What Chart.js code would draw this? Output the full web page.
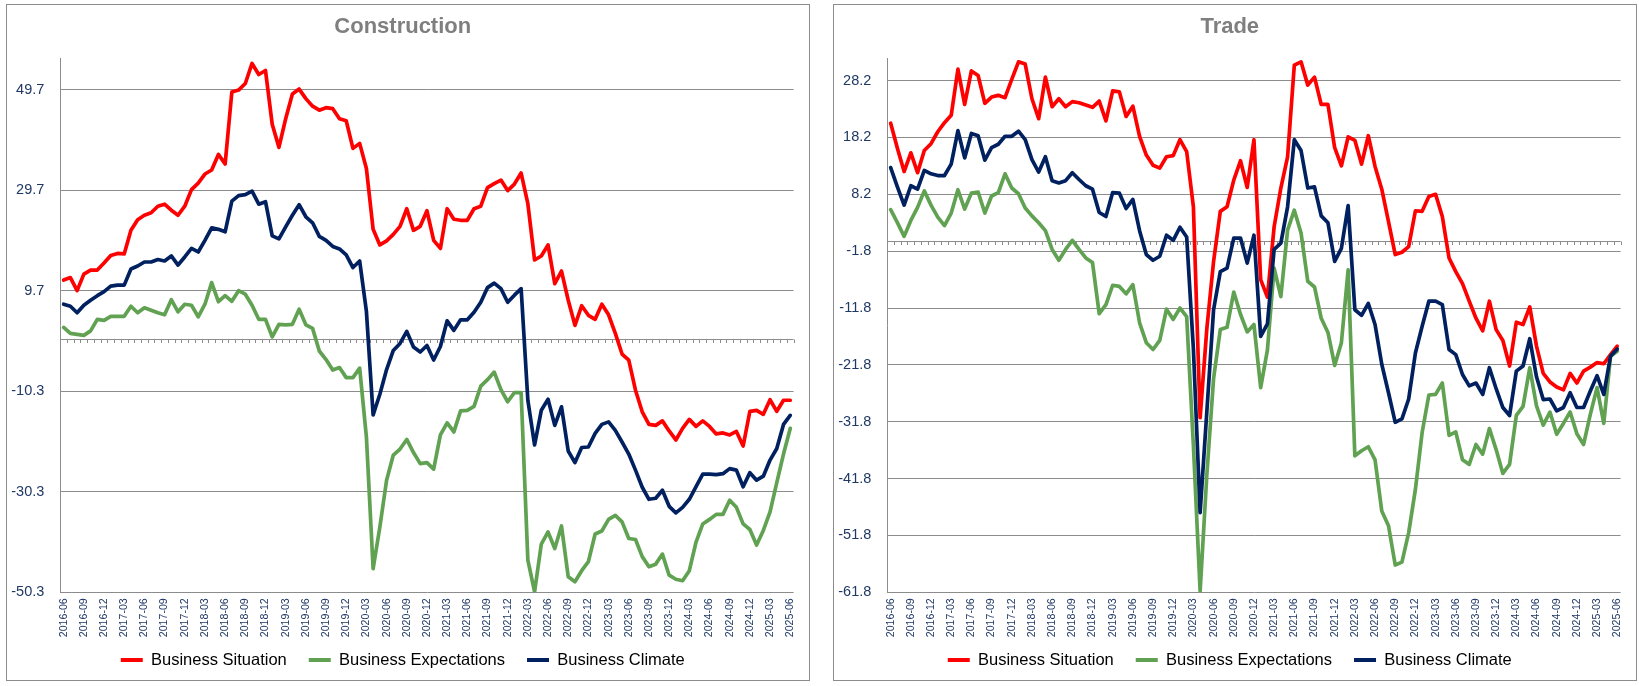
<!DOCTYPE html>
<html>
<head>
<meta charset="utf-8">
<script src="https://cdn.jsdelivr.net/npm/chart.js@4.4.1/dist/chart.umd.min.js"></script>
<style>
  html, body { margin: 0; padding: 0; background: #fff; }
  body { width: 1639px; height: 686px; position: relative; overflow: hidden; }
  .panel { position: absolute; top: 4px; width: 804px; height: 677px; border: 1px solid #8c8c8c; box-sizing: border-box; background: #fff; }
  .panel canvas { display: block; }
</style>
</head>
<body>
<div class="panel" style="left:6px"><canvas id="construction" width="802" height="675"></canvas></div>
<div class="panel" style="left:833px"><canvas id="trade" width="802" height="675"></canvas></div>
<script>
const months = [
    "2016-06", "2016-07", "2016-08", "2016-09", "2016-10", "2016-11", "2016-12",
    "2017-01", "2017-02", "2017-03", "2017-04", "2017-05", "2017-06", "2017-07", "2017-08", "2017-09", "2017-10", "2017-11", "2017-12",
    "2018-01", "2018-02", "2018-03", "2018-04", "2018-05", "2018-06", "2018-07", "2018-08", "2018-09", "2018-10", "2018-11", "2018-12",
    "2019-01", "2019-02", "2019-03", "2019-04", "2019-05", "2019-06", "2019-07", "2019-08", "2019-09", "2019-10", "2019-11", "2019-12",
    "2020-01", "2020-02", "2020-03", "2020-04", "2020-05", "2020-06", "2020-07", "2020-08", "2020-09", "2020-10", "2020-11", "2020-12",
    "2021-01", "2021-02", "2021-03", "2021-04", "2021-05", "2021-06", "2021-07", "2021-08", "2021-09", "2021-10", "2021-11", "2021-12",
    "2022-01", "2022-02", "2022-03", "2022-04", "2022-05", "2022-06", "2022-07", "2022-08", "2022-09", "2022-10", "2022-11", "2022-12",
    "2023-01", "2023-02", "2023-03", "2023-04", "2023-05", "2023-06", "2023-07", "2023-08", "2023-09", "2023-10", "2023-11", "2023-12",
    "2024-01", "2024-02", "2024-03", "2024-04", "2024-05", "2024-06", "2024-07", "2024-08", "2024-09", "2024-10", "2024-11", "2024-12",
    "2025-01", "2025-02", "2025-03", "2025-04", "2025-05", "2025-06",
];

// Construction
const conSituation = [
    11.8, 12.3, 9.7, 13.0, 13.8, 13.8, 15.2, 16.7, 17.1, 17.0, 21.7, 23.8,
    24.7, 25.2, 26.5, 26.9, 25.7, 24.7, 26.5, 29.8, 31.1, 32.9, 33.7, 36.8,
    34.9, 49.2, 49.6, 50.9, 54.9, 52.7, 53.5, 42.8, 38.2, 43.9, 48.8, 49.8,
    47.9, 46.4, 45.6, 46.1, 45.9, 43.9, 43.5, 38.0, 39.0, 34.0, 21.9, 18.8,
    19.6, 20.9, 22.5, 26.0, 21.7, 22.5, 25.6, 19.7, 18.1, 26.0, 23.9, 23.7,
    23.7, 26.0, 26.5, 30.2, 31.0, 31.7, 29.6, 30.9, 33.1, 27.0, 15.8, 16.6,
    18.8, 11.1, 13.6, 7.8, 2.8, 6.7, 4.8, 4.0, 7.0, 4.9, 1.2, -2.9,
    -4.1, -10.1, -14.4, -16.9, -17.1, -16.2, -18.2, -20.0, -17.7, -15.9, -17.3, -16.2,
    -17.3, -18.8, -18.6, -19.0, -18.3, -21.2, -14.3, -14.1, -14.9, -12.0, -14.3, -12.1,
    -12.1,
];
const conExpectations = [
    2.4, 1.2, 1.0, 0.8, 1.7, 4.0, 3.8, 4.6, 4.6, 4.6, 6.6, 5.3,
    6.3, 5.8, 5.3, 4.9, 7.9, 5.5, 7.0, 6.8, 4.5, 7.0, 11.3, 7.5,
    8.7, 7.6, 9.7, 9.0, 6.8, 4.0, 4.0, 0.5, 3.0, 2.9, 3.0, 6.0,
    2.9, 2.2, -2.3, -4.0, -6.1, -5.6, -7.6, -7.6, -5.7, -19.4, -45.6, -37.3,
    -28.0, -23.0, -21.8, -19.9, -22.5, -24.7, -24.5, -25.8, -19.0, -16.6, -18.4, -14.2,
    -14.1, -13.3, -9.3, -8.0, -6.5, -10.0, -12.4, -10.6, -10.6, -43.9, -50.2, -40.7,
    -38.3, -41.6, -37.1, -47.2, -48.2, -46.0, -44.2, -38.7, -38.1, -35.8, -35.0, -36.3,
    -39.6, -39.8, -43.2, -45.2, -44.7, -42.7, -46.9, -47.7, -48.0, -46.0, -40.3, -36.7,
    -35.8, -34.8, -34.8, -32.0, -33.4, -36.7, -37.8, -40.9, -38.0, -34.3, -28.5, -22.8,
    -17.7,
];
const conClimate = [
    7.0, 6.6, 5.3, 6.8, 7.8, 8.7, 9.5, 10.6, 10.8, 10.8, 14.0, 14.6,
    15.4, 15.4, 15.9, 15.6, 16.6, 14.8, 16.4, 18.1, 17.4, 19.7, 22.2, 21.9,
    21.4, 27.5, 28.6, 28.8, 29.5, 26.9, 27.4, 20.6, 20.0, 22.4, 24.7, 26.8,
    24.4, 23.2, 20.5, 19.7, 18.5, 18.0, 16.8, 14.3, 15.6, 5.6, -15.0, -10.9,
    -6.0, -2.2, -0.8, 1.6, -1.5, -2.5, -1.2, -4.1, -1.4, 3.7, 1.8, 3.9,
    3.9, 5.4, 7.4, 10.3, 11.2, 10.1, 7.4, 8.8, 10.1, -12.1, -21.0, -14.1,
    -11.9, -17.1, -13.4, -22.2, -24.5, -21.5, -21.4, -18.7, -16.9, -16.4, -18.1, -20.4,
    -22.8, -26.0, -29.4, -31.8, -31.6, -30.0, -33.2, -34.5, -33.4, -31.8, -29.3, -26.8,
    -26.8, -26.9, -26.7, -25.7, -26.0, -29.3, -26.5, -28.0, -27.2, -24.0, -21.7, -16.9,
    -15.1,
];
const conTicks = [-50.3, -30.3, -10.3, 9.7, 29.7, 49.7];

// Trade
const trdSituation = [
    20.7, 16.3, 12.2, 15.5, 12.0, 15.9, 17.1, 19.2, 20.8, 22.1, 30.2, 24.0,
    29.9, 29.1, 24.2, 25.3, 25.6, 25.2, 28.4, 31.5, 31.1, 25.0, 21.5, 28.8,
    23.6, 25.0, 23.6, 24.5, 24.3, 23.9, 23.5, 24.6, 21.1, 26.4, 26.2, 21.9,
    23.7, 18.4, 15.1, 13.3, 12.8, 14.8, 15.0, 17.8, 15.7, 6.0, -31.1, -15.4,
    -3.6, 5.2, 6.0, 10.7, 14.1, 9.4, 17.8, -6.8, -9.9, 2.5, 9.3, 14.8,
    30.9, 31.5, 27.4, 28.8, 24.0, 24.0, 16.4, 13.2, 18.3, 17.7, 13.5, 18.5,
    13.1, 9.1, 3.4, -2.4, -2.0, -1.0, 5.3, 5.2, 7.8, 8.2, 4.3, -3.0,
    -5.4, -7.5, -10.6, -13.6, -15.8, -10.6, -15.6, -17.5, -22.0, -14.3, -14.7, -11.6,
    -18.5, -23.3, -24.8, -25.7, -26.2, -23.3, -25.0, -22.9, -22.2, -21.4, -21.6, -20.0,
    -18.5,
];
const trdExpectations = [
    5.5, 3.2, 0.8, 3.6, 5.9, 8.8, 6.3, 4.2, 2.7, 4.9, 9.0, 5.6,
    8.4, 8.6, 4.9, 7.9, 8.5, 11.8, 9.3, 8.3, 5.8, 4.4, 3.2, 1.8,
    -1.5, -3.4, -1.5, 0.1, -1.5, -3.0, -3.8, -12.8, -11.2, -7.8, -8.0, -9.3,
    -7.7, -14.4, -17.9, -19.1, -17.5, -12.0, -13.8, -11.8, -13.3, -36.0, -61.6, -41.1,
    -24.2, -15.6, -15.2, -9.0, -12.9, -16.0, -14.7, -25.8, -19.2, -4.8, -9.8, 1.9,
    5.4, 1.4, -7.1, -8.1, -13.6, -16.1, -21.9, -17.9, -5.1, -37.8, -36.9, -36.2,
    -38.5, -47.5, -50.1, -57.0, -56.5, -51.3, -43.7, -33.7, -27.1, -27.0, -25.0, -34.2,
    -33.6, -38.5, -39.3, -35.8, -37.5, -33.0, -36.7, -40.9, -39.3, -30.7, -29.1, -22.3,
    -29.0, -32.4, -30.1, -34.0, -32.1, -30.1, -33.9, -35.8, -30.5, -25.8, -32.1, -20.3,
    -19.4,
];
const trdClimate = [
    12.9, 9.5, 6.3, 9.7, 9.1, 12.4, 11.8, 11.5, 11.5, 13.5, 19.4, 14.6,
    18.9, 18.5, 14.2, 16.4, 17.0, 18.4, 18.4, 19.3, 17.8, 14.3, 12.1, 14.8,
    10.6, 10.2, 10.6, 12.0, 10.8, 9.7, 9.1, 5.0, 4.3, 8.5, 8.4, 5.7,
    7.3, 1.8, -2.4, -3.4, -2.7, 1.0, 0.1, 2.4, 0.7, -19.0, -47.8, -30.0,
    -12.1, -5.4, -4.8, 0.5, 0.5, -3.9, 1.0, -16.8, -14.6, -1.5, -0.4, 6.0,
    17.8, 15.9, 9.3, 9.5, 4.4, 3.2, -3.6, -1.3, 6.2, -12.1, -13.1, -11.0,
    -14.7, -21.7, -26.7, -31.9, -31.3, -27.8, -19.7, -15.0, -10.6, -10.6, -11.2, -19.1,
    -20.0, -23.5, -25.5, -25.0, -27.0, -22.3, -26.0, -29.3, -30.7, -22.9, -22.0, -17.2,
    -23.9, -27.9, -27.8, -29.9, -29.3, -26.7, -29.3, -29.3, -26.4, -23.7, -27.0, -20.3,
    -19.0,
];
const trdTicks = [-61.8, -51.8, -41.8, -31.8, -21.8, -11.8, -1.8, 8.2, 18.2, 28.2];

const seriesNames = ["Business Situation", "Business Expectations", "Business Climate"];
const seriesColors = ["#ff0000", "#60a152", "#002060"];

const FONT = "'Liberation Sans', Arial, sans-serif";
const GRID = "#8c8c8c";
const AXIS_TEXT = "#1f3864";

Chart.defaults.font.family = FONT;
Chart.defaults.animation = false;

// horizontal line at zero with small tick marks between categories
const zeroLine = {
    id: "zeroLine",
    beforeDatasetsDraw(chart) {
        const { ctx, chartArea, scales } = chart;
        const x = scales.x;
        const y0 = Math.round(scales.y.getPixelForValue(0)) + 0.5;
        const step = x.getPixelForValue(1) - x.getPixelForValue(0);
        ctx.save();
        ctx.strokeStyle = GRID;
        ctx.lineWidth = 1;
        ctx.beginPath();
        ctx.moveTo(chartArea.left, y0);
        ctx.lineTo(chartArea.right, y0);
        for (let i = 0; i < months.length; i++) {
            const tx = Math.round(x.getPixelForValue(i) + step / 2) + 0.5;
            ctx.moveTo(tx, y0);
            ctx.lineTo(tx, y0 + 3.5);
        }
        ctx.stroke();
        ctx.restore();
    },
};

function makeChart(canvasId, title, values, yMin, yMax, yTicks) {
    const datasets = values.map((vals, i) => ({
        label: seriesNames[i],
        data: vals,
        borderColor: seriesColors[i],
        backgroundColor: seriesColors[i],
        borderWidth: 3.7,
        pointRadius: 0,
        tension: 0,
        borderJoinStyle: "round",
        borderCapStyle: "round",
        order: 3 - i,
    }));

    return new Chart(document.getElementById(canvasId), {
        type: "line",
        data: { labels: months, datasets },
        options: {
            responsive: false,
            layout: { padding: { left: 0, right: 10.5, top: 0, bottom: 1.75 } },
            plugins: {
                title: {
                    display: true,
                    text: title,
                    color: "#7f7f7f",
                    font: { size: 22, weight: "bold" },
                    padding: { top: 9, bottom: 18 },
                },
                legend: {
                    position: "bottom",
                    labels: {
                        color: "#000",
                        font: { size: 16.5 },
                        boxWidth: 22,
                        boxHeight: 4,
                        padding: 22,
                        sort: (a, b) => a.datasetIndex - b.datasetIndex,
                        generateLabels(chart) {
                            const items = Chart.defaults.plugins.legend.labels.generateLabels(chart);
                            items.forEach((it) => {
                                it.fillStyle = it.strokeStyle;
                                it.lineWidth = 0;
                            });
                            return items;
                        },
                    },
                },
                tooltip: { enabled: false },
            },
            scales: {
                x: {
                    offset: true,
                    grid: { display: false, drawTicks: false },
                    border: { display: false },
                    afterFit: (scale) => {
                        scale.height = 37.45;
                        // the month labels run down past the axis box, so do not clip them
                        scale._computeLabelArea = () => undefined;
                    },
                    ticks: {
                        autoSkip: false,
                        minRotation: 90,
                        maxRotation: 90,
                        padding: 6,
                        color: AXIS_TEXT,
                        font: { size: 10.6 },
                        callback: function (v, i) {
                            return i % 3 === 0 ? this.getLabelForValue(v) : null;
                        },
                    },
                },
                y: {
                    min: yMin,
                    max: yMax,
                    afterBuildTicks: (scale) => {
                        scale.ticks = yTicks.map((v) => ({ value: v }));
                    },
                    afterFit: (scale) => {
                        scale.width = 53.3;
                    },
                    grid: { color: GRID, lineWidth: 1, drawTicks: false },
                    border: { display: true, color: GRID, width: 1 },
                    ticks: {
                        padding: 16,
                        color: AXIS_TEXT,
                        font: { size: 14.5 },
                        callback: (v) => Number(v).toFixed(1),
                    },
                },
            },
        },
        plugins: [zeroLine],
    });
}

makeChart("construction", "Construction", [conSituation, conExpectations, conClimate], -50.3, 55.9, conTicks);
makeChart("trade", "Trade", [trdSituation, trdExpectations, trdClimate], -61.8, 32.1, trdTicks);
</script>
</body>
</html>
